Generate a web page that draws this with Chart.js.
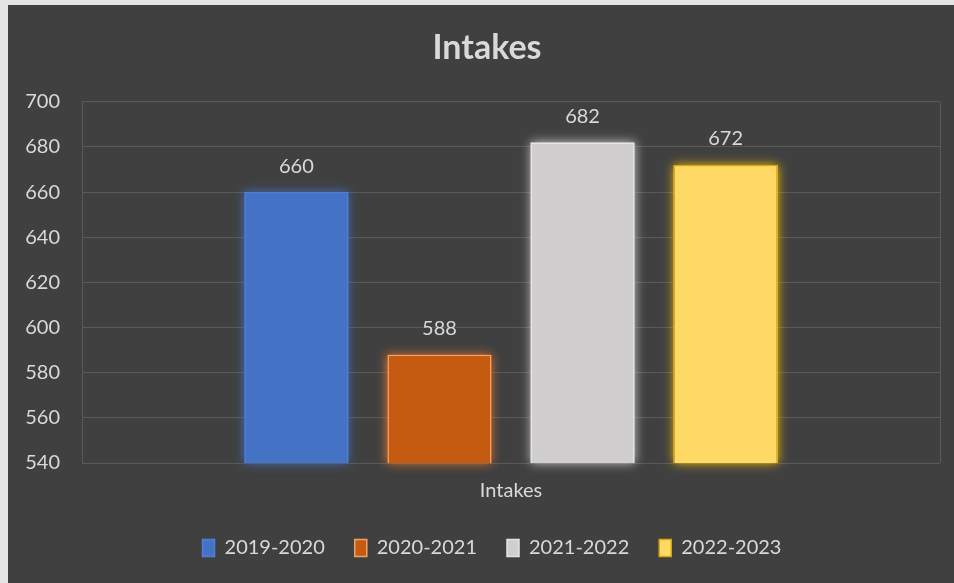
<!DOCTYPE html>
<html>
<head>
<meta charset="utf-8">
<title>Intakes</title>
<script src="https://cdn.jsdelivr.net/npm/chart.js@4/dist/chart.umd.min.js"></script>
<style>
  html, body { margin: 0; padding: 0; }
  body { width: 954px; height: 583px; background: #e4e4e4; position: relative; overflow: hidden; }
  #frame { position: absolute; left: 8px; top: 5px; width: 946px; height: 578px; background: #404040; }
  canvas { display: block; }
</style>
</head>
<body>
<div id="frame"><canvas id="intakeChart" width="946" height="578"></canvas></div>
<script>
// academic years and their intake counts
const categories = ["Intakes"];
const years = ["2019-2020", "2020-2021", "2021-2022", "2022-2023"];
const intakes = [660, 588, 682, 672];
const yTicks = [540, 560, 580, 600, 620, 640, 660, 680, 700];

const barColors = ["#4472c4", "#c55a11", "#d0cece", "#ffd966"];
const edgeColors = ["#4f7fd4", "#f0a36a", "#e4e4e4", "#d9aa10"];
const glowColors = ["rgba(68,114,196,0.9)", "rgba(237,125,49,0.9)", "rgba(230,230,230,0.8)", "rgba(255,200,0,0.9)"];

const textColor = "#d9d9d9";
const fontFamily = "Lato, 'Open Sans', sans-serif";

// nudge title and legend boxes after layout (title sits a bit right, legend higher)
const boxShift = {
  id: "boxShift",
  afterLayout(chart) {
    const t = chart.titleBlock;
    t.left += 6; t.right += 6;
    const lg = chart.legend;
    lg.left += 11; lg.right += 11;
    lg.top -= 11; lg.bottom -= 11;
  }
};

// soft glow behind every bar
const glowPlugin = {
  id: "glow",
  beforeDatasetsDraw(chart) {
    const ctx = chart.ctx;
    const area = chart.chartArea;
    chart.data.datasets.forEach((ds, i) => {
      const meta = chart.getDatasetMeta(i);
      meta.data.forEach(bar => {
        const bottom = Math.min(bar.base, area.bottom);
        ctx.save();
        ctx.shadowColor = glowColors[i];
        ctx.shadowBlur = 10;
        ctx.fillStyle = barColors[i];
        ctx.fillRect(bar.x - bar.width / 2, bar.y, bar.width, bottom - bar.y);
        ctx.restore();
      });
    });
  }
};

// value printed above each bar
const valueLabels = {
  id: "valueLabels",
  afterDatasetsDraw(chart) {
    const ctx = chart.ctx;
    ctx.save();
    ctx.fillStyle = textColor;
    ctx.font = "20px " + fontFamily;
    ctx.textAlign = "center";
    ctx.textBaseline = "middle";
    chart.data.datasets.forEach((ds, i) => {
      const meta = chart.getDatasetMeta(i);
      meta.data.forEach((bar, j) => {
        ctx.fillText(ds.data[j], bar.x, bar.y - 26);
      });
    });
    ctx.restore();
  }
};

const datasets = years.map((year, i) => ({
  label: year,
  data: [intakes[i]],
  backgroundColor: barColors[i],
  borderColor: edgeColors[i],
  borderWidth: 1.5,
  categoryPercentage: 0.667,
  barPercentage: 0.727
}));

new Chart(document.getElementById("intakeChart"), {
  type: "bar",
  data: { labels: categories, datasets: datasets },
  options: {
    responsive: false,
    animation: false,
    layout: { padding: { left: 14, right: 14, top: 0, bottom: 4 } },
    plugins: {
      title: {
        display: true,
        text: "Intakes",
        color: textColor,
        font: { family: fontFamily, size: 34, weight: "bold" },
        padding: { top: 23, bottom: 33 }
      },
      legend: {
        position: "bottom",
        labels: {
          color: textColor,
          font: { family: fontFamily, size: 20 },
          boxWidth: 12,
          boxHeight: 17,
          padding: 30
        }
      },
      tooltip: { enabled: false }
    },
    scales: {
      x: {
        grid: { color: "#5a5a5a", lineWidth: 1, drawTicks: false },
        border: { display: false },
        ticks: { color: textColor, font: { family: fontFamily, size: 20 }, padding: 16 }
      },
      y: {
        min: yTicks[0],
        max: yTicks[yTicks.length - 1],
        afterBuildTicks(scale) {
          scale.ticks = yTicks.map(v => ({ value: v }));
        },
        afterFit(scale) {
          scale.width = 60;
        },
        grid: { color: "#5a5a5a", lineWidth: 1, drawTicks: false },
        border: { display: false },
        ticks: { color: textColor, font: { family: fontFamily, size: 20 }, padding: 22 }
      }
    }
  },
  plugins: [boxShift, glowPlugin, valueLabels]
});
</script>
</body>
</html>
